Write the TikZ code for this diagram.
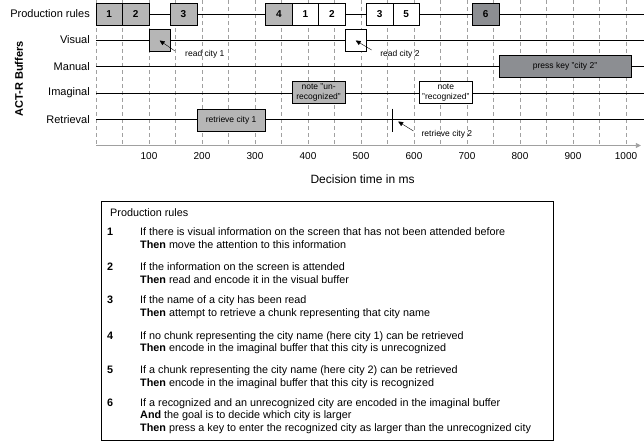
\documentclass[tikz,border=0pt]{standalone}
\usepackage{fontspec}
\setmainfont{Liberation Sans}
\usetikzlibrary{arrows.meta}

\definecolor{boxgray}{RGB}{182,182,182}
\definecolor{boxdark}{RGB}{140,142,146}
\definecolor{gridgray}{RGB}{160,160,160}

\tikzset{
	rowlabel/.style={anchor=east, inner sep=0pt, font=\fontsize{11}{12}\selectfont},
	ticklabel/.style={inner sep=0pt, font=\fontsize{10}{11}\selectfont},
	slot/.style={draw, minimum height=22pt, inner sep=0pt, align=center, font=\fontsize{8.5}{9.5}\selectfont},
	rulebox/.style={slot, minimum width=26.5pt, font=\bfseries\fontsize{10}{11}\selectfont},
	note/.style={anchor=west, inner sep=0pt, font=\fontsize{8.5}{9.5}\selectfont},
	pointer/.style={thin, -{Triangle[length=5pt,width=4.5pt]}},
	ruleline/.style={anchor=base west, inner sep=0pt, font=\fontsize{10.8}{12}\selectfont},
	rulenum/.style={ruleline, font=\bfseries\fontsize{10.8}{12}\selectfont},
}

\begin{document}
\begin{tikzpicture}[x=1pt, y=-1pt]
	\useasboundingbox (0,0) rectangle (644,444);

	%names of the rows
	\node[rowlabel] (lprod) at (90,14) {Production rules};
	\node[rowlabel] (lvis) at (90,40) {Visual};
	\node[rowlabel] (lman) at (90,66.5) {Manual};
	\node[rowlabel] (limag) at (90,93) {Imaginal};
	\node[rowlabel] (lretr) at (90,119.5) {Retrieval};
	\node[rotate=90, inner sep=0pt, font=\bfseries\fontsize{11}{12}\selectfont] (lbuf) at (19,79) {ACT-R Buffers};

	\begin{scope}[xshift=96pt, x=0.53pt]
		%grid every 50 ms
		\foreach \t in {0,50,...,1000}
			\draw[gridgray, dash pattern=on 4pt off 3pt] (\t,0) -- (\t,145.5);

		%time lines of the rows
		\foreach \r in {14,40,66.5,93,119.5}
			\draw[thick] (0,\r) -- (1034,\r);

		%time axis
		\draw[gridgray, thick, -{Triangle[length=5pt,width=5pt]}] (0,145.5) -- (1028,145.5);
		\foreach \t in {100,200,...,1000}
			\node[ticklabel] (t\t) at (\t,156.5) {\t};
		\node[inner sep=0pt, font=\fontsize{12}{13}\selectfont] (xlabel) at (503,179) {Decision time in ms};

		%production rules
		\node[rulebox, fill=boxgray] (p1) at (25,14) {1};
		\node[rulebox, fill=boxgray] (p2) at (75,14) {2};
		\node[rulebox, fill=boxgray] (p3) at (165,14) {3};
		\node[rulebox, fill=boxgray] (p4) at (345,14) {4};
		\node[rulebox, fill=white] (p5) at (395,14) {1};
		\node[rulebox, fill=white] (p6) at (445,14) {2};
		\node[rulebox, fill=white] (p7) at (535,14) {3};
		\node[rulebox, fill=white] (p8) at (585,14) {5};
		\node[rulebox, fill=boxdark] (p9) at (735,14) {6};

		%visual buffer
		\node[slot, fill=boxgray, minimum width=21.2pt] (v1) at (120,40.5) {};
		\node[slot, fill=white, minimum width=21.2pt] (v2) at (490,40.5) {};
		\coordinate (av1) at (149,51);
		\coordinate (av2) at (520,50);
		\draw[pointer] (av1) -- (v1.center);
		\draw[pointer] (av2) -- (v2.center);
		\node[note] (nv1) at (168,54.5) {read city 1};
		\node[note] (nv2) at (536,54.5) {read city 2};

		%manual buffer
		\node[slot, fill=boxdark, minimum width=132.5pt] (m1) at (885,66.5) {press key "city 2"};

		%imaginal buffer
		\node[slot, fill=boxgray, minimum width=53pt] (i1) at (420,92.5) {note "un-\\recognized"};
		\node[slot, fill=white, minimum width=53pt] (i2) at (660,92.5) {note\\"recognized"};

		%retrieval buffer
		\node[slot, fill=boxgray, minimum width=68.9pt] (r1) at (255,120) {retrieve city 1};
		\coordinate (r2) at (560,120);
		\draw[thick] (560,108.5) -- (560,131.5);
		\coordinate (ar2) at (599,131);
		\draw[pointer] (ar2) -- (570,121.5);
		\node[note] (nr2) at (614,134.5) {retrieve city 2};
	\end{scope}

	%list of the production rules
	\node[draw, thick, minimum width=452pt, minimum height=239pt, anchor=north west, inner sep=0pt] (rules) at (101,201) {};
	\node[ruleline] (head) at (110,216.5) {Production rules};

	\node[rulenum] (n1) at (107,235.5) {1};
	\node[ruleline] (if1) at (140,235.5) {If there is visual information on the screen that has not been attended before};
	\node[ruleline] (then1) at (140,248.5) {\textbf{Then} move the attention to this information};

	\node[rulenum] (n2) at (107,270.5) {2};
	\node[ruleline] (if2) at (140,270.5) {If the information on the screen is attended};
	\node[ruleline] (then2) at (140,283.5) {\textbf{Then} read and encode it in the visual buffer};

	\node[rulenum] (n3) at (107,303.5) {3};
	\node[ruleline] (if3) at (140,303.5) {If the name of a city has been read};
	\node[ruleline] (then3) at (140,316) {\textbf{Then} attempt to retrieve a chunk representing that city name};

	\node[rulenum] (n4) at (107,339) {4};
	\node[ruleline] (if4) at (140,339) {If no chunk representing the city name (here city 1) can be retrieved};
	\node[ruleline] (then4) at (140,351.5) {\textbf{Then} encode in the imaginal buffer that this city is unrecognized};

	\node[rulenum] (n5) at (107,373.5) {5};
	\node[ruleline] (if5) at (140,373.5) {If a chunk representing the city name (here city 2) can be retrieved};
	\node[ruleline] (then5) at (140,386.5) {\textbf{Then} encode in the imaginal buffer that this city is recognized};

	\node[rulenum] (n6) at (107,406) {6};
	\node[ruleline] (if6) at (140,406) {If a recognized and an unrecognized city are encoded in the imaginal buffer};
	\node[ruleline] (and6) at (140,418.5) {\textbf{And} the goal is to decide which city is larger};
	\node[ruleline] (then6) at (140,431) {\textbf{Then} press a key to enter the recognized city as larger than the unrecognized city};
\end{tikzpicture}
\end{document}
